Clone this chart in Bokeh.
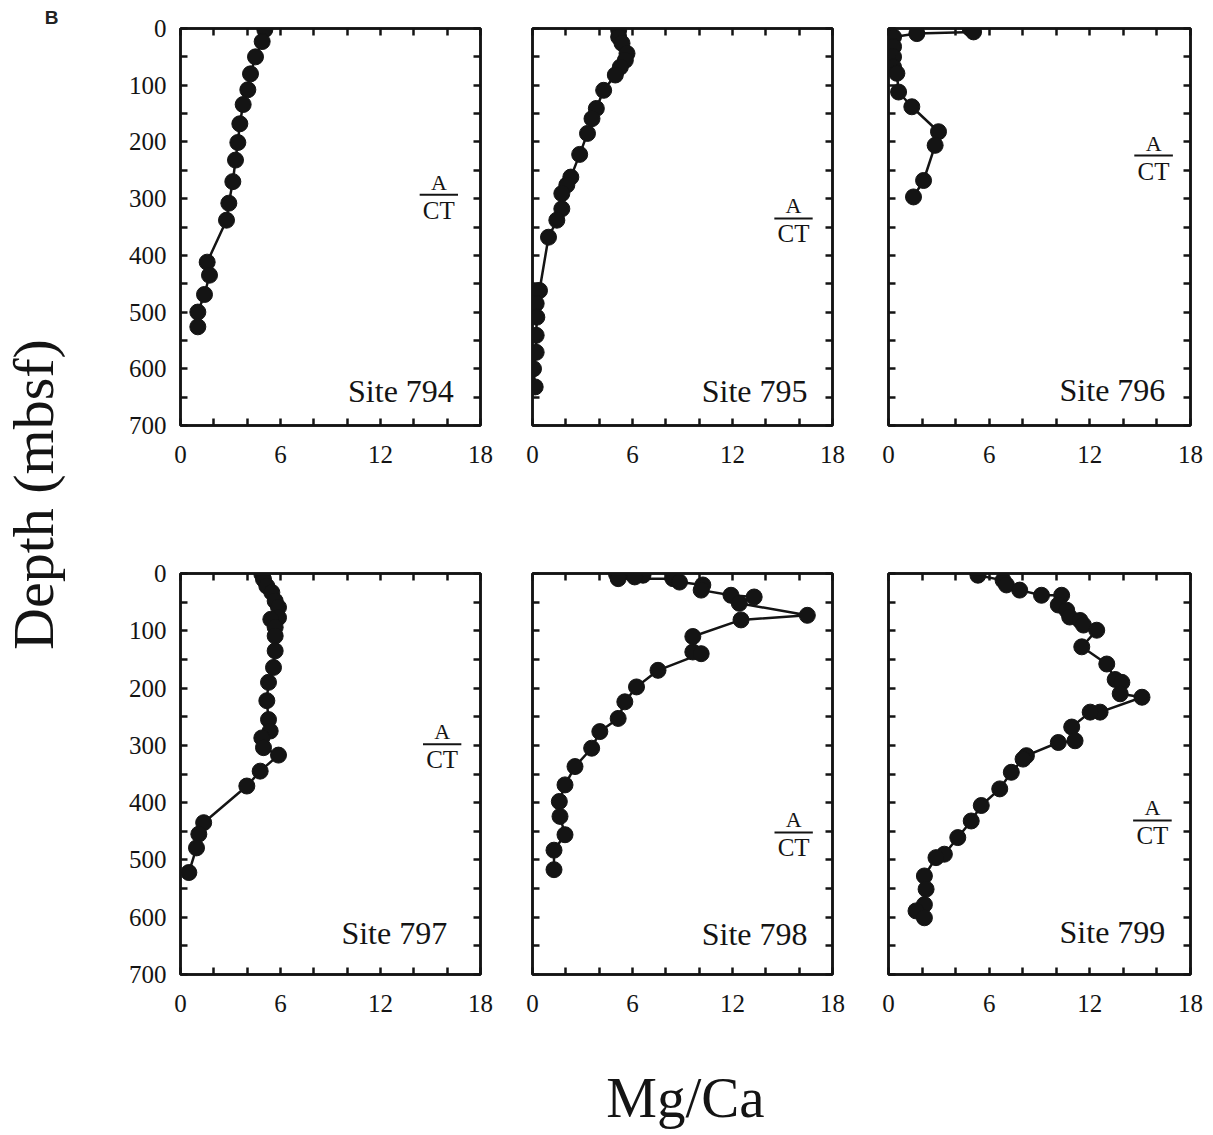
import math
from bokeh.plotting import figure
from bokeh.models import Range1d, FixedTicker, LinearAxis, Label, ColumnDataSource
from bokeh.layouts import row, column
from bokeh.embed import file_html
from bokeh.resources import INLINE

# ---------------- data (Mg/Ca vs depth, mbsf) ----------------
site_names = ["Site 794", "Site 795", "Site 796", "Site 797", "Site 798", "Site 799"]

depth_794 = [2, 23, 50, 80, 108, 134, 168, 201, 232, 270, 308, 338, 412, 435, 469, 500, 526]
mgca_794 = [5.06, 4.9, 4.5, 4.2, 4.04, 3.76, 3.56, 3.44, 3.3, 3.14, 2.9, 2.76, 1.6, 1.74, 1.44, 1.04, 1.04]

depth_795 = [3, 15, 26, 44, 56, 68, 82, 109, 141, 159, 185, 222, 262, 276, 291, 318, 338, 368,
             462, 485, 509, 541, 571, 600, 632]
mgca_795 = [5.17, 5.17, 5.37, 5.67, 5.57, 5.27, 4.97, 4.27, 3.83, 3.57, 3.3, 2.83, 2.3, 2.06, 1.76,
            1.76, 1.46, 0.96, 0.42, 0.22, 0.26, 0.22, 0.22, 0.06, 0.16]

depth_796 = [0, 6, 9, 15, 32, 50, 68, 79, 112, 138, 182, 206, 268, 297]
mgca_796 = [4.87, 5.07, 1.69, 0.3, 0.3, 0.3, 0.3, 0.5, 0.6, 1.39, 2.98, 2.78, 2.09, 1.49]

depth_797 = [1, 10, 22, 33, 48, 59, 77, 80, 94, 109, 135, 164, 190, 222, 255, 275, 287, 304,
             317, 345, 371, 435, 455, 479, 522]
mgca_797 = [4.88, 4.98, 5.18, 5.48, 5.68, 5.88, 5.88, 5.42, 5.68, 5.68, 5.68, 5.58, 5.28, 5.18,
            5.28, 5.38, 4.88, 4.98, 5.88, 4.78, 3.98, 1.39, 1.1, 0.96, 0.5]

depth_798 = [0, 1, 3, 6, 9, 9, 15, 20, 29, 38, 41, 52, 73, 81, 110, 137, 140, 169, 198, 224,
             253, 276, 305, 337, 369, 398, 424, 456, 483, 517]
mgca_798 = [6.03, 5.04, 6.63, 6.13, 5.14, 8.43, 8.82, 10.22, 10.12, 11.91, 13.3, 12.41, 16.49,
            12.51, 9.62, 9.62, 10.12, 7.53, 6.24, 5.54, 5.14, 4.04, 3.55, 2.55, 1.95, 1.61,
            1.65, 1.95, 1.29, 1.29]

depth_799 = [3, 12, 20, 29, 38, 38, 55, 64, 76, 82, 90, 99, 128, 158, 185, 190, 210, 216, 242,
             242, 268, 292, 295, 318, 324, 347, 376, 405, 432, 461, 490, 496, 528, 551, 578,
             589, 601]
mgca_799 = [5.33, 6.83, 7.03, 7.82, 9.12, 10.32, 10.12, 10.62, 10.8, 11.42, 11.62, 12.41, 11.52,
            13.01, 13.51, 13.91, 13.81, 15.11, 12.61, 12.02, 10.92, 11.12, 10.12, 8.22, 8.02,
            7.32, 6.63, 5.53, 4.93, 4.13, 3.33, 2.83, 2.14, 2.24, 2.14, 1.64, 2.14]

x_ticks = [0, 6, 12, 18]
x_minor_ticks = [2, 4, 8, 10, 14, 16]
y_ticks = [0, 100, 200, 300, 400, 500, 600, 700]
y_minor_ticks = [50, 150, 250, 350, 450, 550, 650]

# ---------------- styling ----------------
SERIF = "Liberation Serif"
INK = "#141414"
LW = 2.5
TICK = 7

# annotation placement per panel: site label (right x, middle y), A/CT centre (x, y)
site_pos = [(16.4, 640), (16.5, 640), (16.5, 638), (16.0, 627), (16.5, 630), (16.5, 625)]
act_pos = [(15.5, 293), (15.66, 335), (15.8, 224), (15.7, 298), (15.67, 452), (15.73, 431)]


def style_axis(ax, ticker, labels):
    ax.ticker = ticker
    ax.axis_line_width = LW
    ax.axis_line_color = INK
    ax.major_tick_in = TICK
    ax.major_tick_out = 0
    ax.minor_tick_in = TICK
    ax.minor_tick_out = 0
    ax.major_tick_line_width = LW
    ax.minor_tick_line_width = LW
    ax.major_tick_line_color = INK
    ax.minor_tick_line_color = INK
    if labels:
        ax.major_label_text_font = SERIF
        ax.major_label_text_font_size = "25px"
        ax.major_label_text_color = INK
    else:
        ax.major_label_text_font_size = "0px"
        ax.major_label_overrides = {t: "" for t in ticker.ticks}


def make_panel(i, depth, mgca, col, rowi):
    frame_h = 397 if rowi == 0 else 401
    borders_lr = [(72, 26), (26, 28), (28, 18)][col]
    b_top = 28 if rowi == 0 else 20
    b_bottom = 128 if rowi == 0 else 56
    frame_w = 302 if col == 2 else 300
    p = figure(frame_width=frame_w, frame_height=frame_h,
               x_range=Range1d(0, 18), y_range=Range1d(700, 0),
               min_border_left=borders_lr[0], min_border_right=borders_lr[1],
               min_border_top=b_top, min_border_bottom=b_bottom,
               toolbar_location=None, output_backend="svg",
               x_axis_location="below", y_axis_location="left")
    p.xgrid.visible = False
    p.ygrid.visible = False
    p.outline_line_color = INK
    p.outline_line_width = LW
    p.background_fill_color = "white"
    p.border_fill_color = "white"

    xt = FixedTicker(ticks=x_ticks, minor_ticks=x_minor_ticks)
    yt = FixedTicker(ticks=y_ticks, minor_ticks=y_minor_ticks)
    style_axis(p.xaxis[0], xt, True)
    p.xaxis[0].major_label_standoff = 20
    style_axis(p.yaxis[0], yt, col == 0)
    p.yaxis[0].major_label_standoff = 14

    top_ax = LinearAxis()
    style_axis(top_ax, FixedTicker(ticks=x_ticks, minor_ticks=x_minor_ticks), False)
    p.add_layout(top_ax, "above")
    right_ax = LinearAxis()
    style_axis(right_ax, FixedTicker(ticks=y_ticks, minor_ticks=y_minor_ticks), False)
    p.add_layout(right_ax, "right")

    src = ColumnDataSource(dict(x=mgca, y=depth))
    p.line("x", "y", source=src, line_color=INK, line_width=LW)
    p.scatter("x", "y", source=src, size=16, fill_color=INK, line_color=INK)

    sx, sy = site_pos[i]
    p.add_layout(Label(x=sx, y=sy, text=site_names[i], text_font=SERIF,
                       text_font_size="32px", text_color=INK, text_align="right",
                       text_baseline="middle"))
    ax_, ay_ = act_pos[i]
    p.segment(x0=[ax_ - 1.15], y0=[ay_], x1=[ax_ + 1.15], y1=[ay_],
              line_color=INK, line_width=2)
    p.add_layout(Label(x=ax_, y=ay_, y_offset=0, text="A", text_font=SERIF,
                       text_font_size="22px", text_color=INK, text_align="center",
                       text_baseline="bottom"))
    p.add_layout(Label(x=ax_, y=ay_, y_offset=-2, text="CT", text_font=SERIF,
                       text_font_size="25px", text_color=INK, text_align="center",
                       text_baseline="top"))
    return p


data = [(depth_794, mgca_794), (depth_795, mgca_795), (depth_796, mgca_796),
        (depth_797, mgca_797), (depth_798, mgca_798), (depth_799, mgca_799)]
panels = []
for i, (d, m) in enumerate(data):
    panels.append(make_panel(i, d, m, i % 3, i // 3))

# left strip with the y-axis title and panel letter
LH = 553 + 477
left = figure(width=108, height=LH, x_range=Range1d(0, 108), y_range=Range1d(0, LH),
              min_border=0, toolbar_location=None, output_backend="svg",
              x_axis_location=None, y_axis_location=None)
left.xgrid.visible = False
left.ygrid.visible = False
left.outline_line_color = None
left.add_layout(Label(x=33, y=LH - 494, text="Depth (mbsf)", angle=math.pi / 2,
                      text_font=SERIF, text_font_size="58px", text_color=INK,
                      text_align="center", text_baseline="middle"))
left.add_layout(Label(x=51, y=LH - 17, text="B", text_font="Liberation Sans",
                      text_font_style="bold", text_font_size="19px", text_color="#222",
                      text_align="center", text_baseline="middle"))

# bottom strip with the x-axis title
BW, BH = 1208, 102
bottom = figure(width=BW, height=BH, x_range=Range1d(0, BW), y_range=Range1d(0, BH),
                min_border=0, toolbar_location=None, output_backend="svg",
                x_axis_location=None, y_axis_location=None)
bottom.xgrid.visible = False
bottom.ygrid.visible = False
bottom.outline_line_color = None
bottom.add_layout(Label(x=685, y=BH - 67, text="Mg/Ca", text_font=SERIF, text_font_size="57px",
                        text_color=INK, text_align="center", text_baseline="middle"))

grid = column(row(panels[0], panels[1], panels[2]), row(panels[3], panels[4], panels[5]))
layout = column(row(left, grid), bottom)

open("out.html", "w").write(file_html(layout, INLINE))
